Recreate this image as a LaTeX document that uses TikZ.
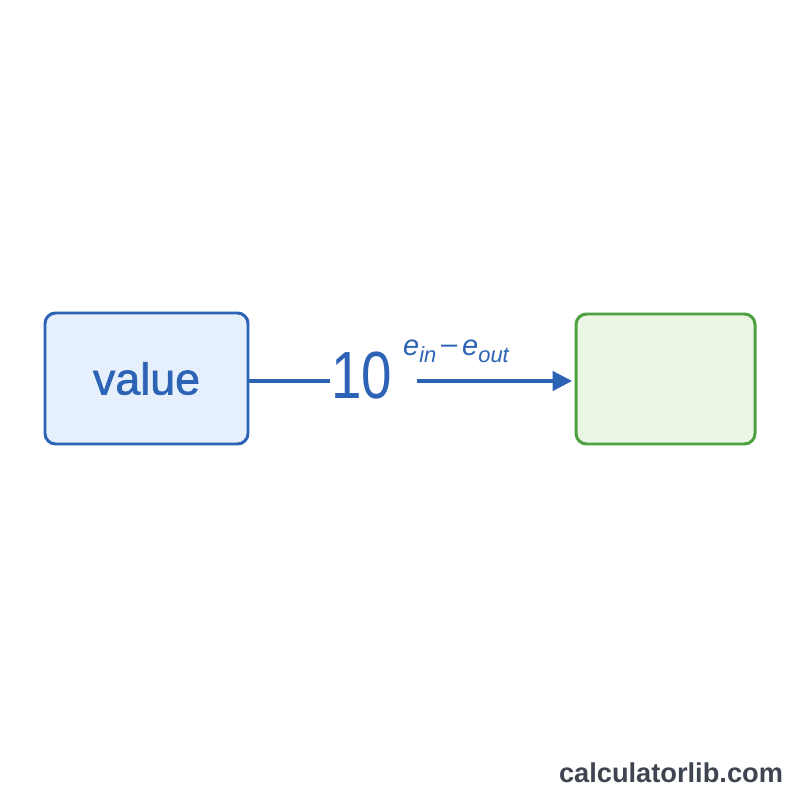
\documentclass[tikz,border=0pt]{standalone}
\usepackage{fontspec}
\setmainfont{Liberation Sans}
\newfontfamily\labelfont{Liberation Sans}[FakeBold=1.3]
\usepackage{tikz}
\usetikzlibrary{arrows.meta,positioning,calc}
\definecolor{valblue}{HTML}{2C63B5}
\definecolor{valfill}{HTML}{E6F0FC}
\definecolor{resgreen}{HTML}{4EA13F}
\definecolor{resfill}{HTML}{EAF5E3}
\definecolor{markgray}{HTML}{3F4550}
\tikzset{
    >={Triangle[length=11pt,width=11pt]},
    box/.style={draw,rounded corners=6pt,line width=1.7pt,inner sep=0pt},
    link/.style={draw=valblue,line width=1.9pt}
}

\begin{document}
\begin{tikzpicture}[x=0.02cm,y=-0.02cm]
        % canvas
        \fill[white] (0,0) rectangle (800,800);
        \useasboundingbox (0,0) rectangle (800,800);

        % Boxes
        \node[box,draw=valblue,fill=valfill,minimum width=203*0.02cm,minimum height=131*0.02cm,
            text=valblue,font=\labelfont\fontsize{25.5}{28}\selectfont] (value) at (146.5,378.5) {value};
        \node[box,draw=resgreen,fill=resfill,minimum width=179*0.02cm,minimum height=130*0.02cm] (result) at (665.5,379) {};

        % Factor
        \node[text=valblue,inner sep=1pt,font=\fontsize{38}{40}\selectfont,xscale=0.82,transform shape] (ten) at (362,376) {10};
        \node[text=valblue,inner sep=0pt,font=\fontsize{16.5}{18}\selectfont\itshape] (expo) at (456,351)
            {e\raisebox{-0.45ex}{\fontsize{12.5}{14}\selectfont in}\,\raisebox{0.1ex}{\upshape\textendash}\,e\raisebox{-0.45ex}{\fontsize{12.5}{14}\selectfont out}};

        % Arrow
        \coordinate (tail) at (417,381);
        \coordinate (tip) at (572,381);
        \draw[link] (value.east |- tail) -- (ten.west |- tail);
        \draw[link,->] (tail) -- (tip);

        % Watermark
        \node[text=markgray,font=\fontsize{15.5}{18}\selectfont\bfseries] (site) at (671,773) {calculatorlib.com};
    \end{tikzpicture}
\end{document}
